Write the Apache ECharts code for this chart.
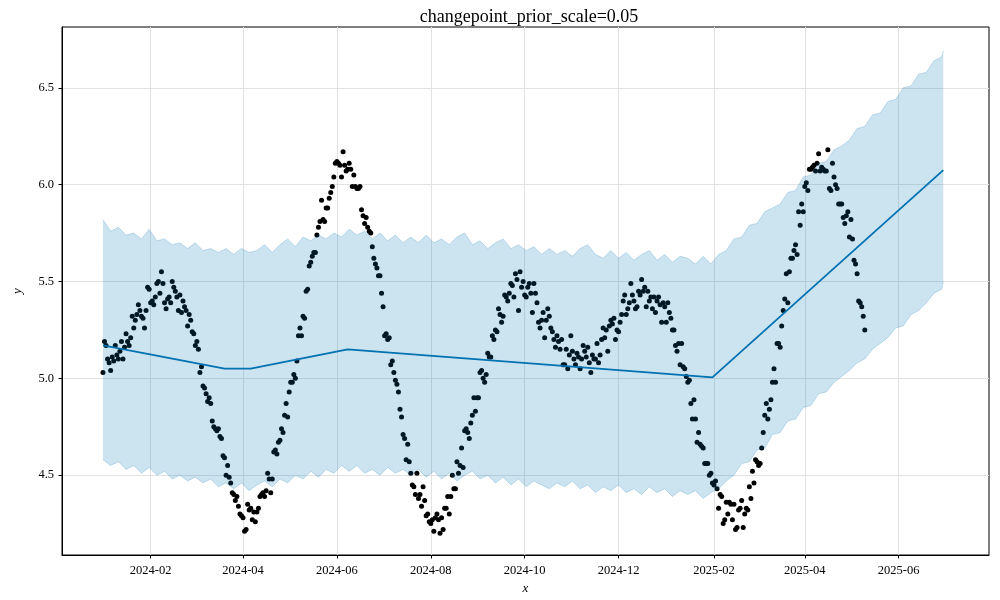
<!DOCTYPE html>
<html><head><meta charset="utf-8">
<script src="https://cdn.jsdelivr.net/npm/echarts@6/dist/echarts.min.js"></script>
<style>html,body{margin:0;padding:0;background:#fff}#c{width:1000px;height:600px}</style>
</head><body><div id="c"></div>
<script>
// observed daily values, starting 2024-01-01
const obsStart = '2024-01-01';
const obsValues = [
5.03,5.19,5.17,5.10,5.08,5.04,5.11,5.09,5.17,5.12,
5.10,5.14,5.19,5.10,5.16,5.23,5.19,5.17,5.21,5.32,
5.26,5.30,5.33,5.38,5.35,5.32,5.31,5.26,5.35,5.47,
5.46,5.39,5.40,5.38,5.42,5.49,5.50,5.44,5.55,5.49,
5.39,5.36,5.41,5.42,5.39,5.50,5.47,5.45,5.42,5.35,
5.43,5.34,5.40,5.37,5.35,5.27,5.33,5.30,5.24,5.23,
5.17,5.19,5.15,5.03,5.06,4.96,4.95,4.92,4.88,4.90,
4.87,4.78,4.75,4.74,4.73,4.74,4.70,4.69,4.60,4.59,
4.50,4.55,4.49,4.46,4.41,4.40,4.37,4.39,4.34,4.30,
4.29,4.28,4.21,4.22,4.35,4.32,4.33,4.27,4.31,4.26,
4.31,4.33,4.39,4.40,4.41,4.39,4.42,4.51,4.48,4.41,
4.48,4.62,4.63,4.61,4.67,4.68,4.74,4.72,4.81,4.87,
4.80,4.93,4.98,4.98,5.02,5.00,5.09,5.22,5.26,5.22,
5.32,5.31,5.45,5.46,5.58,5.60,5.63,5.65,5.65,5.74,
5.78,5.81,5.92,5.82,5.81,5.88,5.88,5.93,5.96,5.99,
6.04,6.11,6.12,6.11,6.10,6.04,6.17,6.10,6.07,6.08,
6.11,6.08,5.99,6.05,5.99,5.98,5.98,5.99,5.87,5.84,
5.80,5.83,5.78,5.76,5.75,5.68,5.62,5.59,5.57,5.53,
5.53,5.44,5.37,5.22,5.23,5.20,5.21,5.07,5.09,5.03,
4.99,4.97,4.93,4.84,4.80,4.71,4.69,4.58,4.66,4.57,
4.51,4.45,4.44,4.40,4.51,4.38,4.40,4.34,4.44,4.37,
4.29,4.30,4.26,4.25,4.27,4.21,4.28,4.30,4.27,4.20,
4.28,4.22,4.33,4.33,4.39,4.30,4.39,4.50,4.43,4.43,
4.57,4.51,4.55,4.64,4.54,4.73,4.74,4.72,4.69,4.77,
4.81,4.90,4.83,4.90,4.90,5.03,5.04,5.00,4.98,5.02,
5.13,5.11,5.11,5.22,5.20,5.25,5.24,5.36,5.33,5.29,
5.32,5.43,5.42,5.40,5.44,5.49,5.48,5.42,5.54,5.51,
5.35,5.55,5.47,5.50,5.43,5.42,5.47,5.49,5.44,5.34,
5.49,5.44,5.39,5.29,5.26,5.30,5.34,5.21,5.30,5.36,
5.32,5.26,5.24,5.20,5.16,5.22,5.19,5.15,5.20,5.07,
5.07,5.15,5.05,5.12,5.22,5.14,5.10,5.07,5.13,5.11,
5.05,5.10,5.17,5.14,5.11,5.16,5.08,5.03,5.12,5.10,
5.10,5.18,5.08,5.12,5.20,5.26,5.21,5.25,5.14,5.27,
5.30,5.28,5.31,5.20,5.25,5.24,5.29,5.33,5.40,5.43,
5.33,5.36,5.39,5.49,5.43,5.40,5.36,5.37,5.45,5.43,
5.51,5.45,5.47,5.37,5.45,5.40,5.42,5.36,5.42,5.34,
5.40,5.42,5.38,5.29,5.39,5.37,5.29,5.39,5.34,5.31,
5.25,5.25,5.17,5.14,5.18,5.07,5.18,5.06,5.05,5.01,
4.98,4.99,4.87,4.79,4.89,4.79,4.67,4.72,4.66,4.65,
4.64,4.56,4.56,4.56,4.50,4.51,4.46,4.45,4.47,4.43,
4.33,4.40,4.39,4.25,4.27,4.36,4.30,4.36,4.35,4.27,
4.35,4.22,4.23,4.32,4.33,4.37,4.23,4.30,4.33,4.32,
4.44,4.38,4.52,4.46,4.58,4.57,4.55,4.56,4.64,4.72,
4.81,4.87,4.79,4.84,4.89,4.98,5.05,4.98,5.18,5.18,
5.16,5.27,5.35,5.41,5.54,5.39,5.55,5.62,5.62,5.66,
5.69,5.64,5.86,5.79,5.90,5.86,5.99,6.01,5.97,6.08,
6.08,6.09,6.10,6.07,6.11,6.16,6.07,6.09,6.08,6.07,
6.07,6.18,5.98,5.97,6.11,6.04,6.00,5.98,5.90,5.90,
5.90,5.83,5.80,5.84,5.86,5.73,5.82,5.72,5.61,5.59,
5.54,5.40,5.39,5.37,5.32,5.25
];

// trend (yhat) knots
const trendDates = ['2024-01-01','2024-03-20','2024-04-06','2024-06-08','2025-01-31','2025-06-30'];
const trendValues = [5.17, 5.05, 5.05, 5.15, 5.005, 6.075];

// uncertainty band, sampled every 5 days from 2024-01-01, last sample 2025-06-30
const bandStart = '2024-01-01';
const bandEnd = '2025-06-30';
const bandUpper = [
5.82,5.76,5.78,5.74,5.75,5.72,5.77,5.71,5.72,5.69,5.70,5.67,5.70,5.66,5.67,5.65,5.67,5.64,5.67,5.65,
5.66,5.69,5.65,5.69,5.72,5.68,5.73,5.71,5.74,5.72,5.75,5.73,5.77,5.74,5.76,5.72,5.75,5.71,5.74,5.70,
5.73,5.70,5.74,5.70,5.72,5.69,5.73,5.75,5.69,5.71,5.67,5.70,5.72,5.67,5.69,5.66,5.68,5.64,5.67,5.64,
5.66,5.63,5.67,5.69,5.64,5.62,5.66,5.62,5.65,5.61,5.64,5.66,5.61,5.64,5.60,5.63,5.62,5.59,5.63,5.59,
5.64,5.66,5.72,5.73,5.79,5.80,5.86,5.88,5.90,5.96,5.97,6.04,6.05,6.11,6.12,6.18,6.20,6.23,6.29,6.30,
6.36,6.37,6.43,6.44,6.50,6.51,6.57,6.58,6.64,6.66,6.69
];
const bandLower = [
4.58,4.55,4.57,4.53,4.55,4.51,4.54,4.50,4.52,4.48,4.50,4.47,4.49,4.46,4.48,4.44,4.46,4.43,4.46,4.42,
4.45,4.47,4.44,4.48,4.46,4.50,4.48,4.52,4.49,4.53,4.51,4.55,4.52,4.55,4.51,4.53,4.50,4.54,4.51,4.53,
4.50,4.53,4.49,4.52,4.48,4.51,4.47,4.50,4.52,4.48,4.50,4.46,4.49,4.45,4.48,4.44,4.47,4.45,4.43,4.46,
4.44,4.47,4.43,4.45,4.41,4.44,4.42,4.45,4.41,4.43,4.40,4.44,4.41,4.43,4.39,4.42,4.40,4.42,4.38,4.41,
4.43,4.47,4.50,4.56,4.57,4.63,4.64,4.71,4.72,4.78,4.79,4.85,4.86,4.92,4.93,4.98,5.01,5.04,5.08,5.10,
5.15,5.18,5.21,5.26,5.27,5.33,5.35,5.39,5.44,5.46,5.50
];

// axis ticks
const xTickLabels = ['2024-02','2024-04','2024-06','2024-08','2024-10','2024-12','2025-02','2025-04','2025-06'];
const yTickValues = [4.5, 5.0, 5.5, 6.0, 6.5];
const xMin = '2023-12-05T09:00:00Z';
const xMax = '2025-07-29T17:00:00Z';
const yMin = 4.088, yMax = 6.814;

const DAY = 86400000;
const t0 = Date.parse(obsStart);
const obsData = obsValues.map((v, i) => [t0 + i * DAY, v]);
const trendData = trendDates.map((d, i) => [Date.parse(d), trendValues[i]]);
const b0 = Date.parse(bandStart), bEnd = Date.parse(bandEnd);
const bandT = bandUpper.map((_, i) => Math.min(b0 + i * 5 * DAY, bEnd));
const bandData = bandUpper.map((v, i) => [bandT[i], bandLower[i], v]);
const xTickValues = xTickLabels.map(s => Date.parse(s + '-01'));

const serif = '"Liberation Serif", "DejaVu Serif", serif';
const bandColor = 'rgba(0,114,178,0.2)';

function renderBand(params, api) {
  if (params.dataIndex !== 0) return null;
  const up = bandData.map(d => api.coord([d[0], d[2]]));
  const lo = bandData.map(d => api.coord([d[0], d[1]]));
  const poly = up.concat(lo.slice().reverse());
  return {
    type: 'group',
    children: [
      {type: 'polygon', shape: {points: poly}, style: {fill: bandColor, stroke: null}},
      {type: 'polyline', shape: {points: up}, style: {stroke: bandColor, lineWidth: 1, fill: null}},
      {type: 'polyline', shape: {points: lo}, style: {stroke: bandColor, lineWidth: 1, fill: null}}
    ]
  };
}

const chart = echarts.init(document.getElementById('c'), null, {renderer: 'canvas'});
chart.setOption({
  animation: false,
  backgroundColor: '#fff',
  title: {
    text: 'changepoint_prior_scale=0.05',
    left: 524, top: 3, textAlign: 'center',
    textStyle: {fontFamily: serif, fontSize: 18, fontWeight: 'normal', color: '#000'}
  },
  grid: {left: 62, top: 27, width: 927, height: 529, show: true, borderColor: '#000', borderWidth: 1, backgroundColor: 'transparent'},
  xAxis: {
    type: 'value',
    min: Date.parse(xMin), max: Date.parse(xMax),
    name: 'x', nameLocation: 'middle', nameGap: 27,
    nameTextStyle: {fontFamily: serif, fontStyle: 'italic', fontSize: 13, color: '#000'},
    axisLine: {show: true, lineStyle: {color: '#000', width: 1}},
    axisTick: {show: true, length: 3.5, lineStyle: {color: '#000'}, customValues: xTickValues},
    axisLabel: {
      customValues: xTickValues, margin: 9, fontFamily: serif, fontSize: 12.5, color: '#000',
      formatter: v => { const i = xTickValues.indexOf(v); return i >= 0 ? xTickLabels[i] : ''; }
    },
    splitLine: {show: true, lineStyle: {color: '#e2e2e2', width: 1}}
  },
  yAxis: {
    type: 'value', min: yMin, max: yMax,
    name: 'y', nameLocation: 'middle', nameGap: 38,
    nameTextStyle: {fontFamily: serif, fontStyle: 'italic', fontSize: 13, color: '#000'},
    axisLine: {show: true, lineStyle: {color: '#000', width: 1}},
    axisTick: {show: true, length: 3.5, lineStyle: {color: '#000'}, customValues: yTickValues},
    axisLabel: {customValues: yTickValues, margin: 8, fontFamily: serif, fontSize: 12.5, color: '#000',
      formatter: v => v.toFixed(1)},
    splitLine: {show: true, lineStyle: {color: '#e2e2e2', width: 1}}
  },
  series: [
    {type: 'scatter', name: 'y', data: obsData, symbolSize: 5, itemStyle: {color: '#000', opacity: 1}, z: 2, silent: true},
    {type: 'line', name: 'yhat', data: trendData, symbol: 'none', lineStyle: {color: '#0072B2', width: 1.8}, z: 3, silent: true},
    {type: 'custom', name: 'band', data: bandData, renderItem: renderBand, encode: {x: 0, y: [1, 2]}, z: 4, silent: true, clip: true}
  ]
});
</script></body></html>
